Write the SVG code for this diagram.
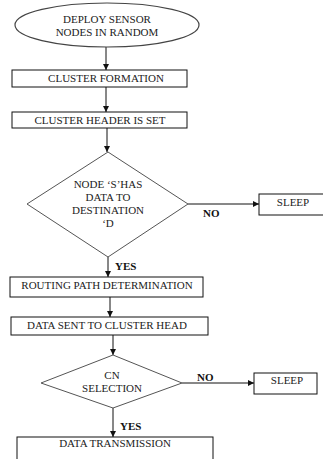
<svg xmlns="http://www.w3.org/2000/svg" width="323" height="459" viewBox="0 0 323 459">
<style>
.bg{fill:#fff}
.box{fill:#fff;stroke:#111;stroke-width:1}
.dia{fill:#fff;stroke:#555;stroke-width:1}
.ell{fill:#fff;stroke:#444;stroke-width:1.2}
.t{font-family:"Liberation Serif","DejaVu Serif","Times New Roman",serif;font-size:11px;fill:#222;text-anchor:middle}
.lb{font-family:"Liberation Serif","DejaVu Serif","Times New Roman",serif;font-size:11px;font-weight:bold;fill:#111}
.c{stroke:#111;stroke-width:1;fill:none;marker-end:url(#ah)}
</style>
<defs>
<marker id="ah" markerUnits="userSpaceOnUse" markerWidth="7" markerHeight="7" refX="6" refY="3" orient="auto">
<path d="M0,0 L6,3 L0,6 z" fill="#111"/>
</marker>
</defs>
<rect class="bg" x="0" y="0" width="323" height="459"/>
<g id="connectors">
<line class="c" x1="106" y1="47" x2="106" y2="70"/>
<line class="c" x1="106" y1="87" x2="106" y2="112"/>
<line class="c" x1="107" y1="128" x2="107" y2="152"/>
<line class="c" x1="188" y1="204" x2="259" y2="204"/>
<line class="c" x1="108" y1="257" x2="108" y2="277"/>
<line class="c" x1="110" y1="297" x2="110" y2="317"/>
<line class="c" x1="113" y1="335" x2="113" y2="355"/>
<line class="c" x1="182" y1="383" x2="254" y2="383"/>
<line class="c" x1="113" y1="408" x2="113" y2="437"/>
<text class="lb" x="203" y="217">NO</text>
<text class="lb" x="115" y="270">YES</text>
<text class="lb" x="197" y="381">NO</text>
<text class="lb" x="120" y="430">YES</text>
</g>
<g id="deploy">
<ellipse class="ell" cx="107" cy="25" rx="92" ry="22"/>
<text class="t" x="107" y="23">DEPLOY SENSOR</text>
<text class="t" x="107" y="36">NODES IN RANDOM</text>
</g>
<g id="cluster-formation">
<rect class="box" x="12" y="70" width="175" height="17"/>
<text class="t" x="106" y="82">CLUSTER FORMATION</text>
</g>
<g id="cluster-header">
<rect class="box" x="12" y="112" width="175" height="16"/>
<text class="t" x="100" y="124">CLUSTER HEADER IS SET</text>
</g>
<g id="decision-data">
<polygon class="dia" points="108,152 188,204 108,257 27,204"/>
<text class="t" x="108" y="188">NODE ‘S’HAS</text>
<text class="t" x="108" y="201">DATA TO</text>
<text class="t" x="108" y="214">DESTINATION</text>
<text class="t" x="108" y="227">‘D</text>
</g>
<g id="sleep1">
<rect class="box" x="259" y="194" width="68" height="21"/>
<text class="t" x="293" y="206">SLEEP</text>
</g>
<g id="routing">
<rect class="box" x="10" y="277" width="193" height="20"/>
<text class="t" x="107" y="289">ROUTING PATH DETERMINATION</text>
</g>
<g id="data-sent">
<rect class="box" x="11" y="317" width="197" height="18"/>
<text class="t" x="107" y="329">DATA SENT TO CLUSTER HEAD</text>
</g>
<g id="decision-cn">
<polygon class="dia" points="113,355 182,383 113,408 41,383"/>
<text class="t" x="112" y="379">CN</text>
<text class="t" x="112" y="392">SELECTION</text>
</g>
<g id="sleep2">
<rect class="box" x="254" y="373" width="63" height="21"/>
<text class="t" x="287" y="384">SLEEP</text>
</g>
<g id="transmission">
<rect class="box" x="17" y="437" width="196" height="30"/>
<text class="t" x="115" y="447">DATA TRANSMISSION</text>
</g>
</svg>
